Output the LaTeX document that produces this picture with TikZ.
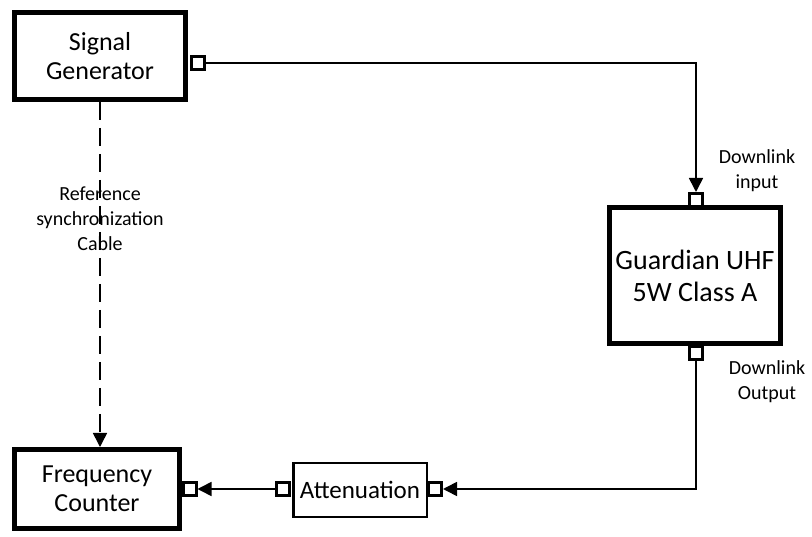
\documentclass[tikz,border=0pt]{standalone}
\usepackage{fontspec}
\setmainfont{Carlito}
\usetikzlibrary{arrows.meta}
\begin{document}
\begin{tikzpicture}[x=1pt,y=-1pt,
  dev/.style={draw, line width=5pt, inner sep=0pt, align=center, font=\fontsize{26}{29}\selectfont},
  attbox/.style={draw, line width=2.5pt, inner sep=0pt, align=center, font=\fontsize{25}{29}\selectfont},
  port/.style={draw, line width=3pt, fill=white, minimum size=13pt, inner sep=0pt},
  conn/.style={line width=1.6pt, -{Triangle[width=14pt,length=14pt]}},
  lbl/.style={align=center, font=\fontsize{20}{25}\selectfont, inner sep=0pt}]
\useasboundingbox (0,0) rectangle (812,537);
\node[dev, minimum width=171pt, minimum height=87pt] (sg) at (100,56) {Signal\\Generator};
\node[dev, minimum width=171pt, minimum height=136pt, font=\fontsize{28}{32}\selectfont] (gd) at (695,276) {Guardian UHF\\5W Class A};
\node[dev, minimum width=165pt, minimum height=79pt] (fc) at (97,489) {Frequency\\Counter};
\node[attbox, minimum width=133.5pt, minimum height=53.5pt] (att) at (360,490) {Attenuation};
\node[port] (sgp) at (198,63) {};
\node[port] (gtp) at (696,200) {};
\node[port] (gbp) at (696,353) {};
\node[port] (fcp) at (189.5,489) {};
\node[port] (alp) at (283,489) {};
\node[port] (arp) at (435,489) {};
\draw[conn] (sgp.east) -| (gtp.north);
\draw[conn] (gbp.south) |- (arp.east);
\draw[conn] (alp.west) -- (fcp.east);
\coordinate (fctop) at (sg.south |- fc.north);
\draw[conn, dash pattern=on 18pt off 8pt] (sg.south) -- (fctop);
\node[lbl] (ref) at (100,219) {Reference\\synchronization\\Cable};
\node[lbl] (dli) at (757,171) {Downlink\\input};
\node[lbl] (dlo) at (767,382) {Downlink\\Output};
\end{tikzpicture}
\end{document}
